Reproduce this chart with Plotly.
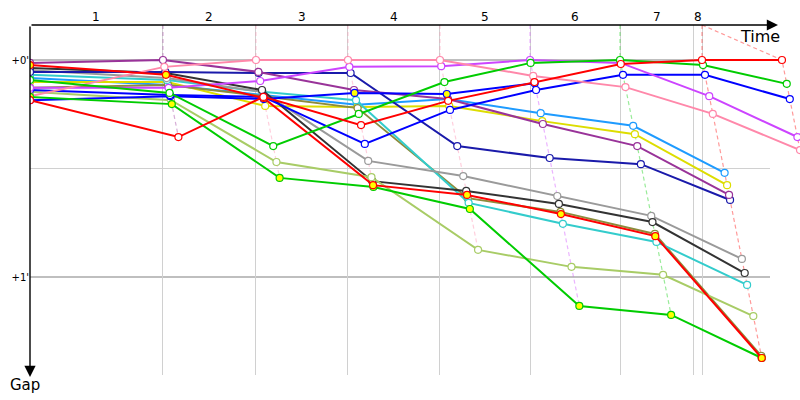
import plotly.graph_objects as go

# ---------------- data ----------------
# leader's elapsed time (s) when completing lap 0..8
leader_times = [0, 183.4, 311.7, 438.6, 565.5, 689.7, 813.8, 926.9, 1037.2]
# vertical grid lines (s) and lap labels placed between them
grid_times = [183.4, 311.7, 438.6, 565.5, 689.7, 813.8, 914.5, 926.9]
lap_labels = ["1", "2", "3", "4", "5", "6", "7", "8"]
gap_ticks = [0, 60]
gap_tick_labels = ["+0'", "+1'"]
half_minute = [30]

# gap to leader in seconds, lap 0..n
red_a = [11.1, 21.3, 10.2, 18.0, 11.3, 6.1, 1.1, 0, 0]
red_b = [1.4, 4.1, 10.5, 34.6, 37.3, 42.6, 48.7, 82.4]
green_b = [10.2, 12.2, 32.6, 35.1, 41.2, 68.0, 70.5, 82.4]
green_a = [5.5, 9.1, 23.8, 14.9, 6.1, 0.8, 0, 1.4, 6.6]
yellowgreen = [8.8, 11.1, 28.2, 32.4, 52.5, 57.2, 59.4, 70.8]
olive = [7.7, 6.9, 10.0, 13.3, 38.2, 42.0, 48.1, 81.8]
cyan = [4.1, 5.5, 8.8, 11.1, 39.5, 45.3, 50.3, 62.2]
gray = [2.8, 5.0, 8.8, 27.9, 32.1, 37.6, 43.1, 55.0]
black = [2.2, 3.6, 8.3, 33.5, 36.2, 39.8, 44.8, 58.9]
navy = [3.3, 3.3, 3.6, 3.6, 23.8, 27.1, 28.8, 38.7]
purple = [0.8, 0, 3.3, 8.3, 10.8, 17.7, 23.8, 37.3]
violet = [7.7, 7.7, 5.8, 1.9, 1.7, 0, 0.8, 10.0, 21.3]
pink = [10.0, 1.9, 0, 0, 0, 4.4, 7.5, 14.9, 24.9]
blue = [8.3, 9.7, 10.2, 23.2, 13.8, 8.3, 4.1, 4.1, 10.8]
blue_y = [11.1, 10.0, 10.8, 9.1, 9.4, 6.4]
lightblue = [5.0, 6.9, 9.7, 12.4, 10.8, 14.7, 18.2, 31.2]
yellow = [6.1, 6.1, 12.7, 13.0, 12.7, 16.9, 20.5, 34.6]

# ---------------- styles ----------------
cars = [
    (lightblue, "#1e9bff", "white"),
    (yellow, "#dddd00", "white"),
    (olive, "#8c8c3c", "white"),
    (cyan, "#33cccc", "white"),
    (gray, "#9a9a9a", "white"),
    (black, "#333333", "white"),
    (yellowgreen, "#a8cc66", "white"),
    (navy, "#1a1aaa", "white"),
    (purple, "#993399", "white"),
    (blue_y, "#0000ff", "#ffff00"),
    (blue, "#0000ff", "white"),
    (violet, "#cc44ff", "white"),
    (pink, "#ff88aa", "white"),
    (green_b, "#00cc00", "#ffff00"),
    (red_b, "#ff0000", "#ffff00"),
    (green_a, "#00cc00", "white"),
    (red_a, "#ff0000", "white"),
]

px_per_s_x = 0.725
x_max = 770 / px_per_s_x
y_top = -35 * 0.2765
y_bottom = 315 * 0.2765
grid_end = 740 / px_per_s_x


def lap_x(lap, gap):
    return 0 if lap == 0 else leader_times[lap] + gap


def rgba(hexc, a):
    h = hexc.lstrip("#")
    r, g, b = int(h[0:2], 16), int(h[2:4], 16), int(h[4:6], 16)
    return f"rgba({r},{g},{b},{a})"


fig = go.Figure()

# lap lines (dashed), coloured after the lap leader
for lap in range(1, len(leader_times)):
    gaps = [(c[0][lap], c[1]) for c in cars if len(c[0]) > lap]
    leader_col = min(gaps, key=lambda t: t[0])[1]
    gmax = max(g for g, _ in gaps)
    t = leader_times[lap]
    top = max(g for g in grid_times if g <= t + 1e-6)
    fig.add_trace(go.Scatter(
        x=[top, t, t + gmax], y=[y_top, 0, gmax], mode="lines",
        line=dict(color=rgba(leader_col, 0.4), width=1.2, dash="4px,3px"),
        hoverinfo="skip", showlegend=False))

for gaps, col, fill in cars:
    xs = [lap_x(i, g) for i, g in enumerate(gaps)]
    fig.add_trace(go.Scatter(
        x=xs, y=gaps, mode="lines+markers",
        line=dict(color=col, width=2),
        marker=dict(size=7, color=fill, line=dict(color=col, width=1.2)),
        showlegend=False))

shapes = []
for v in gap_ticks:
    shapes.append(dict(type="line", xref="x", yref="y", x0=0, x1=grid_end, y0=v, y1=v,
                       line=dict(color="#808080", width=1.2), layer="below"))
for v in half_minute:
    shapes.append(dict(type="line", xref="x", yref="y", x0=0, x1=grid_end, y0=v, y1=v,
                       line=dict(color="#d0d0d0", width=1), layer="below"))

annotations = []
bounds = [0] + grid_times
for i, lab in enumerate(lap_labels):
    annotations.append(dict(x=(bounds[i] + bounds[i + 1]) / 2, y=1, xref="x", yref="paper",
                            yanchor="bottom", yshift=-1, text=lab, showarrow=False,
                            font=dict(size=12, color="black", family="DejaVu Sans")))
# axes with arrows
annotations.append(dict(x=(778 - 30) / 770, y=1, xref="paper", yref="paper",
                        ax=-748, ay=0, text="", showarrow=True, arrowhead=2,
                        arrowsize=1.6, arrowwidth=1.4, arrowcolor="black"))
annotations.append(dict(x=0, y=-2 / 350, xref="paper", yref="paper",
                        ax=0, ay=-352, text="", showarrow=True, arrowhead=2,
                        arrowsize=1.6, arrowwidth=1.4, arrowcolor="black"))
annotations.append(dict(x=(760 - 30) / 770, y=1, xref="paper", yref="paper",
                        yanchor="middle", xanchor="center", yshift=-11, text="Time",
                        showarrow=False, font=dict(size=16, color="black", family="DejaVu Sans")))
annotations.append(dict(x=-5 / 770, y=-10 / 350, xref="paper", yref="paper",
                        yanchor="middle", xanchor="center", text="Gap",
                        showarrow=False, font=dict(size=15, color="black", family="DejaVu Sans")))

fig.update_layout(
    width=800, height=400,
    margin=dict(l=30, r=0, t=25, b=25, autoexpand=False),
    paper_bgcolor="white", plot_bgcolor="white",
    xaxis=dict(range=[0, x_max], tickvals=grid_times, showticklabels=False,
               showgrid=True, gridcolor="#d0d0d0", gridwidth=1, zeroline=False,
               showline=False, ticks="", automargin=False),
    yaxis=dict(range=[y_bottom, y_top], tickvals=gap_ticks, ticktext=gap_tick_labels,
               showgrid=False, zeroline=False, showline=False, ticks="", automargin=False,
               tickfont=dict(size=10, color="black", family="DejaVu Sans")),
    shapes=shapes, annotations=annotations,
)

fig.write_html("out.html", config={"displayModeBar": False},
               post_script="document.body.style.margin='0';document.body.style.padding='0';")
